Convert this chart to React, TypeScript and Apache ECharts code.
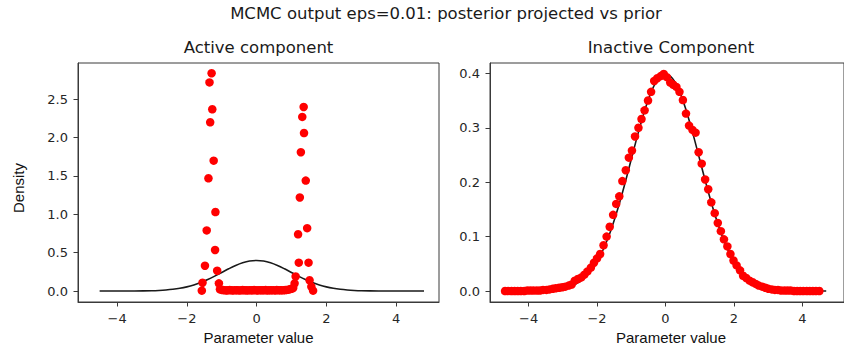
import React, { useEffect, useRef } from "react";
import * as echarts from "echarts";

// Standard normal prior, sampled along the parameter axis
const priorX = [
  -4.6, -4.5, -4.0, -3.5, -3.0, -2.8, -2.6, -2.4, -2.2, -2.0, -1.8, -1.6, -1.4, -1.2, -1.0, -0.8, -0.6, -0.4, -0.2,
  0.0, 0.2, 0.4, 0.6, 0.8, 1.0, 1.2, 1.4, 1.6, 1.8, 2.0, 2.2, 2.4, 2.6, 2.8, 3.0, 3.5, 4.0, 4.5, 4.7, 4.8,
];
const priorY = [
  0.0, 0.0, 0.0001, 0.0009, 0.0044, 0.0079, 0.0136, 0.0224, 0.0355, 0.054, 0.079, 0.1109, 0.1497, 0.1942, 0.242,
  0.2897, 0.3332, 0.3683, 0.391, 0.3989, 0.391, 0.3683, 0.3332, 0.2897, 0.242, 0.1942, 0.1497, 0.1109, 0.079, 0.054,
  0.0355, 0.0224, 0.0136, 0.0079, 0.0044, 0.0009, 0.0001, 0.0, 0.0, 0.0,
];

// Posterior of the active component (projected)
const activeX = [
  -1.57, -1.55, -1.48, -1.43, -1.38, -1.35, -1.33, -1.29, -1.27, -1.23, -1.19, -1.18, -1.13, -1.08,
  -1.05, -1.0, -0.96, -0.91, -0.86, -0.82, -0.77, -0.72, -0.68, -0.63, -0.58, -0.54, -0.49, -0.44, -0.4, -0.35,
  -0.3, -0.26, -0.21, -0.16, -0.12, -0.07, -0.02, 0.02, 0.07, 0.12, 0.16, 0.21, 0.26, 0.3, 0.35, 0.4, 0.44, 0.49,
  0.54, 0.58, 0.63, 0.68, 0.72, 0.77, 0.82, 0.86, 0.91, 0.96, 1.0,
  1.05, 1.09, 1.12, 1.19, 1.21, 1.24, 1.27, 1.31, 1.35, 1.36, 1.41, 1.45, 1.49, 1.52, 1.57, 1.62,
];
const activeY = [
  0.005, 0.108, 0.33, 0.79, 1.47, 2.72, 2.2, 2.84, 2.37, 1.7, 0.535, 1.03, 0.265, 0.1,
  0.022, 0.015, 0.012, 0.01, 0.008, 0.01, 0.012, 0.009, 0.008, 0.01, 0.011, 0.009, 0.008, 0.01, 0.012, 0.009,
  0.01, 0.008, 0.011, 0.01, 0.009, 0.012, 0.01, 0.008, 0.01, 0.011, 0.009, 0.01, 0.012, 0.008, 0.01, 0.009, 0.011,
  0.01, 0.008, 0.012, 0.01, 0.009, 0.011, 0.01, 0.012, 0.015, 0.018, 0.024, 0.03,
  0.04, 0.1, 0.19, 0.74, 0.37, 1.22, 1.81, 2.27, 2.4, 2.06, 1.44, 0.82, 0.37, 0.14, 0.056, 0.005,
];

// Posterior of the inactive component (projected)
const inactiveX = [
  -4.69, -4.6, -4.5, -4.41, -4.32, -4.23, -4.13, -4.04, -3.95, -3.86, -3.76, -3.67, -3.58, -3.48, -3.39, -3.3,
  -3.21, -3.11, -3.02, -2.93, -2.83, -2.74, -2.65, -2.56, -2.46, -2.37, -2.28, -2.18, -2.09, -2.0, -1.91, -1.81,
  -1.72, -1.63, -1.53, -1.44, -1.35, -1.26, -1.16, -1.07, -0.98, -0.89, -0.79, -0.7, -0.61, -0.51, -0.42, -0.33,
  -0.24, -0.14, -0.05, 0.04, 0.14, 0.23, 0.32, 0.41, 0.51, 0.6, 0.69, 0.79, 0.88, 0.97, 1.06, 1.16, 1.25, 1.34,
  1.44, 1.53, 1.62, 1.71, 1.81, 1.9, 1.99, 2.08, 2.18, 2.27, 2.36, 2.46, 2.55, 2.64, 2.73, 2.83, 2.92, 3.01, 3.11,
  3.2, 3.29, 3.38, 3.48, 3.57, 3.66, 3.76, 3.85, 3.94, 4.03, 4.13, 4.22, 4.31, 4.4, 4.5,
];
const inactiveY = [
  0.0, 0.0, 0.0, 0.0, 0.0, 0.0, 0.0, 0.001, 0.001, 0.001, 0.001, 0.001, 0.002, 0.002, 0.003,
  0.004, 0.005, 0.006, 0.007, 0.008, 0.01, 0.012, 0.019, 0.022, 0.025, 0.03, 0.036, 0.043, 0.052,
  0.06, 0.068, 0.084, 0.1, 0.118, 0.14, 0.16, 0.174, 0.202, 0.222, 0.245, 0.258, 0.284, 0.3, 0.316, 0.332, 0.35,
  0.366, 0.386, 0.391, 0.395, 0.399,
  0.393, 0.383, 0.379, 0.375, 0.366, 0.351, 0.326, 0.304, 0.296, 0.291, 0.255, 0.234, 0.205, 0.187, 0.163, 0.143,
  0.125, 0.11, 0.095, 0.082, 0.068, 0.056, 0.047, 0.038, 0.028, 0.024,
  0.019, 0.016, 0.013, 0.01, 0.008, 0.006, 0.004, 0.003, 0.002, 0.002, 0.001, 0.001, 0.001, 0.001,
  0.0, 0.0, 0.0, 0.0, 0.0, 0.0, 0.0, 0.0, 0.0,
];

const xTicks = [-4, -2, 0, 2, 4];
const yTicksActive = [0, 0.5, 1.0, 1.5, 2.0, 2.5];
const yTicksInactive = [0, 0.1, 0.2, 0.3, 0.4];

const suptitle = "MCMC output eps=0.01: posterior projected vs prior";
const panelTitles = ["Active component", "Inactive Component"];
const xLabel = "Parameter value";
const yLabel = "Density";

const TICK_FONT = "DejaVu Sans";
const TICK_COLOR = "#262626";
const SPINE = "#3a3a3a";

const fmtX = (v: number) => (v < 0 ? "\u2212" + Math.abs(v) : String(v));
const fmtY = (v: number) => v.toFixed(1);

const pairs = (xs: number[], ys: number[]) => xs.map((x, i) => [x, ys[i]]);

export default function App() {
  const ref = useRef<HTMLDivElement>(null);

  useEffect(() => {
    if (!ref.current) return;
    const chart = echarts.init(ref.current, undefined, { renderer: "svg" });

    const grids = [
      { left: 78, top: 63, width: 361, height: 239 },
      { left: 490, top: 63, width: 361, height: 239 },
    ];

    const xAxisBase = (gridIndex: number, min: number, max: number) => ({
      type: "value",
      gridIndex,
      min,
      max,
      position: "bottom",
      splitLine: { show: false },
      axisLine: { show: true, onZero: false, lineStyle: { color: SPINE, width: 1 } },
      axisTick: {
        show: true,
        inside: false,
        customValues: xTicks,
        length: 4.5,
        lineStyle: { color: SPINE, width: 1 },
      },
      axisLabel: {
        customValues: xTicks,
        formatter: fmtX,
        margin: 10,
        fontSize: 13,
        fontFamily: TICK_FONT,
        color: TICK_COLOR,
      },
    });

    const yAxisBase = (gridIndex: number, min: number, max: number, ticks: number[]) => ({
      type: "value",
      gridIndex,
      min,
      max,
      position: "left",
      splitLine: { show: false },
      axisLine: { show: true, onZero: false, lineStyle: { color: SPINE, width: 1 } },
      axisTick: {
        show: true,
        inside: false,
        customValues: ticks,
        length: 4.5,
        lineStyle: { color: SPINE, width: 1 },
      },
      axisLabel: {
        customValues: ticks,
        formatter: fmtY,
        margin: 10,
        fontSize: 13,
        fontFamily: TICK_FONT,
        color: TICK_COLOR,
      },
    });

    const priorPairs = pairs(priorX, priorY);

    chart.setOption({
      animation: false,
      backgroundColor: "#ffffff",
      grid: grids.map((g) => ({
        ...g,
        show: true,
        borderColor: SPINE,
        borderWidth: 1,
        backgroundColor: "transparent",
      })),
      xAxis: [xAxisBase(0, -5.12, 5.23), xAxisBase(1, -5.13, 5.22)],
      yAxis: [
        yAxisBase(0, -0.143, 2.973, yTicksActive),
        yAxisBase(1, -0.0202, 0.419, yTicksInactive),
      ],
      series: [
        {
          type: "line",
          xAxisIndex: 0,
          yAxisIndex: 0,
          data: priorPairs.filter((p) => p[0] >= -4.5),
          showSymbol: false,
          smooth: 0.35,
          lineStyle: { color: "#1a1a1a", width: 1.6 },
          z: 2,
        },
        {
          type: "scatter",
          xAxisIndex: 0,
          yAxisIndex: 0,
          data: pairs(activeX, activeY),
          symbolSize: 8.5,
          itemStyle: { color: "#ff0000", opacity: 1 },
          z: 3,
        },
        {
          type: "line",
          xAxisIndex: 1,
          yAxisIndex: 1,
          data: priorPairs.filter((p) => p[0] <= 4.7),
          showSymbol: false,
          smooth: 0.35,
          lineStyle: { color: "#1a1a1a", width: 1.6 },
          z: 2,
        },
        {
          type: "scatter",
          xAxisIndex: 1,
          yAxisIndex: 1,
          data: pairs(inactiveX, inactiveY),
          symbolSize: 8.5,
          itemStyle: { color: "#ff0000", opacity: 1 },
          z: 3,
        },
      ],
      graphic: [
        {
          type: "text",
          x: 446,
          y: 13,
          style: {
            text: suptitle,
            fontSize: 16.5,
            fontFamily: "DejaVu Sans",
            fill: "#1a1a1a",
            align: "center",
            verticalAlign: "middle",
          },
        },
        {
          type: "text",
          x: 258.5,
          y: 47,
          style: {
            text: panelTitles[0],
            fontSize: 16.5,
            fontFamily: "DejaVu Sans",
            fill: "#1a1a1a",
            align: "center",
            verticalAlign: "middle",
          },
        },
        {
          type: "text",
          x: 671,
          y: 47,
          style: {
            text: panelTitles[1],
            fontSize: 16.5,
            fontFamily: "DejaVu Sans",
            fill: "#1a1a1a",
            align: "center",
            verticalAlign: "middle",
          },
        },
        {
          type: "text",
          x: 258.5,
          y: 337,
          style: {
            text: xLabel,
            fontSize: 15,
            fontFamily: "Liberation Sans",
            fill: "#111111",
            align: "center",
            verticalAlign: "middle",
          },
        },
        {
          type: "text",
          x: 671,
          y: 337,
          style: {
            text: xLabel,
            fontSize: 15,
            fontFamily: "Liberation Sans",
            fill: "#111111",
            align: "center",
            verticalAlign: "middle",
          },
        },
        {
          type: "text",
          x: 18,
          y: 188,
          rotation: Math.PI / 2,
          style: {
            text: yLabel,
            fontSize: 15,
            fontFamily: "Liberation Sans",
            fill: "#111111",
            align: "center",
            verticalAlign: "middle",
          },
        },
      ],
    });

    return () => chart.dispose();
  }, []);

  return (
    <div
      ref={ref}
      style={{ position: "fixed", left: 0, top: 0, width: 844, height: 352, background: "#fff" }}
    />
  );
}
